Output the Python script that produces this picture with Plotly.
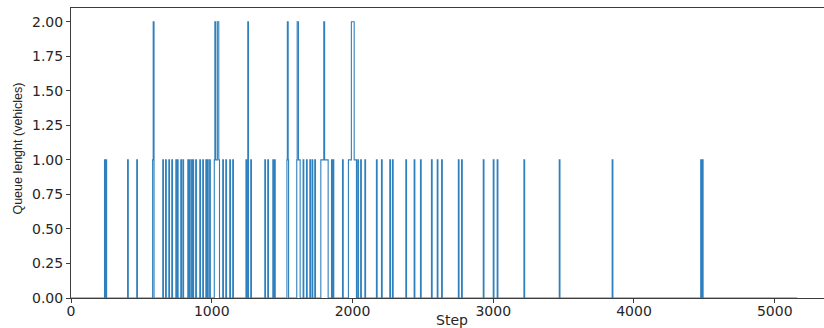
import plotly.graph_objects as go

# Queue length step series: step at which the queue changes, and the new value
change_steps = [0,
    238, 243, 248, 253, 402, 407, 467, 472,
    580, 584, 590, 652, 657, 672, 677, 695, 700, 716, 721,
    745, 750, 756, 761, 780, 785, 795, 800, 830, 835, 842, 847,
    857, 862, 866, 871, 886, 891, 915, 920, 936, 941, 958, 963,
    968, 975, 985, 990,
    1018, 1022, 1028, 1040, 1050, 1055,
    1078, 1083, 1100, 1105, 1128, 1133, 1149, 1154,
    1243, 1248, 1256, 1261, 1277, 1282,
    1377, 1382, 1398, 1403, 1434, 1439, 1446, 1451,
    1534, 1537, 1543, 1546,
    1604, 1607, 1616, 1628, 1649, 1654, 1673, 1678, 1697, 1702,
    1713, 1718, 1732, 1737,
    1775, 1796, 1802, 1827, 1851, 1856, 1862, 1867,
    1929, 1934,
    1971, 1992, 2012, 2028,
    2037, 2042, 2058, 2063, 2088, 2093,
    2170, 2175, 2206, 2211, 2265, 2270, 2284, 2289,
    2379, 2384, 2438, 2443, 2483, 2488, 2561, 2566,
    2602, 2607, 2633, 2638, 2752, 2757, 2775, 2780,
    2929, 2934, 3000, 3005, 3028, 3033, 3218, 3223,
    3469, 3474, 3845, 3850, 4474, 4479, 4486, 4491,
    5160]
queue_values = [0,
    1, 0, 1, 0, 1, 0, 1, 0,
    1, 2, 0, 1, 0, 1, 0, 1, 0, 1, 0,
    1, 0, 1, 0, 1, 0, 1, 0, 1, 0, 1, 0,
    1, 0, 1, 0, 1, 0, 1, 0, 1, 0, 1, 0,
    1, 0, 1, 0,
    1, 2, 1, 2, 1, 0,
    1, 0, 1, 0, 1, 0, 1, 0,
    1, 0, 2, 0, 1, 0,
    1, 0, 1, 0, 1, 0, 1, 0,
    1, 2, 1, 0,
    1, 2, 1, 0, 1, 0, 1, 0, 1, 0,
    1, 0, 1, 0,
    1, 2, 1, 0, 1, 0, 1, 0,
    1, 0,
    1, 2, 1, 0,
    1, 0, 1, 0, 1, 0,
    1, 0, 1, 0, 1, 0, 1, 0,
    1, 0, 1, 0, 1, 0, 1, 0,
    1, 0, 1, 0, 1, 0, 1, 0,
    1, 0, 1, 0, 1, 0, 1, 0,
    1, 0, 1, 0, 1, 0, 1, 0,
    0]

x_ticks = [0, 1000, 2000, 3000, 4000, 5000]
y_ticks = [0.0, 0.25, 0.5, 0.75, 1.0, 1.25, 1.5, 1.75, 2.0]
y_tick_labels = ["0.00", "0.25", "0.50", "0.75", "1.00", "1.25", "1.50", "1.75", "2.00"]

fig = go.Figure()
fig.add_trace(go.Scatter(
    x=change_steps, y=queue_values, mode="lines",
    line=dict(color="#2f80bd", width=1.1, shape="hv"),
    showlegend=False,
))

axis_color = "#3c3c3c"
tick_font = dict(family="DejaVu Sans", size=14, color="#262626")

fig.update_layout(
    width=824, height=328,
    margin=dict(l=71, r=0, t=8, b=30),
    paper_bgcolor="white", plot_bgcolor="white",
    xaxis=dict(
        range=[0, 5350], tickvals=x_ticks, ticktext=[str(v) for v in x_ticks],
        showgrid=False, zeroline=False, layer="above traces",
        showline=True, linecolor=axis_color, linewidth=1, mirror=True,
        ticks="outside", ticklen=4, tickcolor=axis_color, tickfont=tick_font,
        ticklabelstandoff=-4,
    ),
    yaxis=dict(
        range=[0, 2.1], tickvals=y_ticks, ticktext=y_tick_labels,
        showgrid=False, zeroline=False, layer="above traces",
        showline=True, linecolor=axis_color, linewidth=1, mirror=False,
        ticks="outside", ticklen=4, tickcolor=axis_color, tickfont=tick_font,
    ),
    annotations=[
        dict(text="Step", xref="paper", yref="paper", x=0.506, y=-0.042,
             xanchor="center", yanchor="top", showarrow=False,
             font=dict(family="DejaVu Sans", size=14, color="#262626")),
        dict(text="Queue lenght (vehicles)", xref="paper", yref="paper",
             x=-0.0705, y=0.515, xanchor="center", yanchor="middle",
             textangle=-90, showarrow=False,
             font=dict(family="Liberation Sans", size=12.5, color="#262626")),
    ],
)

fig.write_html("out.html", config={"displayModeBar": False},
               post_script="document.body.style.margin='0px';")
